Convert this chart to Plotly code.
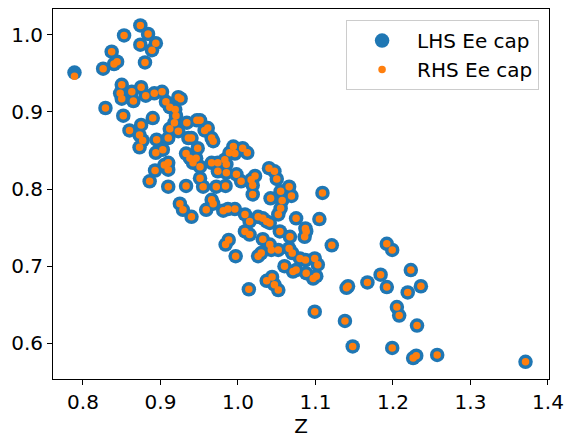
import plotly.graph_objects as go

z = [0.789, 0.874, 0.884, 0.853, 0.874, 0.894, 0.889, 0.837, 0.840, 0.844,
     0.826, 0.880, 0.850, 0.848, 0.850, 0.863, 0.865, 0.875, 0.881, 0.892,
     0.902, 0.829, 0.852, 0.890, 0.907, 0.912, 0.919, 0.923, 0.926, 0.920,
     0.875, 0.860, 0.873, 0.877, 0.873, 0.895, 0.910, 0.894, 0.903, 0.912,
     0.923, 0.918, 0.934, 0.947, 0.951, 0.957, 0.961, 0.966, 0.968, 0.936,
     0.940, 0.948, 0.933, 0.938, 0.946, 0.942, 0.951, 0.910, 0.905, 0.910,
     0.893, 0.886, 0.910, 0.933, 0.955, 0.972, 0.984, 0.966, 0.974, 0.974,
     0.985, 0.998, 0.983, 0.989, 0.996, 0.951, 0.985, 1.006, 1.012, 0.994,
     1.040, 1.047, 1.050, 1.004, 1.022, 1.017, 1.019, 1.019, 1.066, 1.055,
     1.069, 1.057, 1.055, 1.052, 1.042, 1.109, 0.996, 1.009, 1.026, 1.032,
     1.037, 1.041, 1.075, 1.105, 0.925, 0.929, 0.940, 0.959, 0.968, 0.966,
     0.981, 0.987, 1.015, 1.087, 1.086, 1.088, 1.009, 1.015, 0.988, 0.984,
     0.997, 1.032, 1.041, 1.043, 1.052, 1.030, 1.026, 1.054, 1.067, 1.066,
     1.070, 1.060, 1.071, 1.075, 1.080, 1.087, 1.099, 1.088, 1.097, 1.101,
     1.037, 1.044, 1.047, 1.052, 1.014, 1.103, 1.121, 1.099, 1.138, 1.142,
     1.140, 1.167, 1.184, 1.192, 1.199, 1.223, 1.192, 1.219, 1.236, 1.205,
     1.208, 1.231, 1.148, 1.199, 1.226, 1.230, 1.257, 1.371]

lhs_ee_cap = [0.951, 1.012, 1.001, 0.999, 0.987, 0.989, 0.980, 0.978, 0.962, 0.965,
              0.956, 0.964, 0.935, 0.924, 0.917, 0.926, 0.914, 0.932, 0.921, 0.924,
              0.926, 0.905, 0.895, 0.892, 0.913, 0.906, 0.903, 0.919, 0.917, 0.895,
              0.883, 0.876, 0.870, 0.863, 0.854, 0.864, 0.866, 0.847, 0.851, 0.878,
              0.875, 0.886, 0.886, 0.889, 0.889, 0.876, 0.879, 0.866, 0.862, 0.866,
              0.866, 0.853, 0.846, 0.840, 0.840, 0.834, 0.829, 0.834, 0.831, 0.825,
              0.824, 0.810, 0.803, 0.804, 0.803, 0.803, 0.804, 0.834, 0.834, 0.823,
              0.821, 0.819, 0.838, 0.847, 0.846, 0.814, 0.832, 0.853, 0.847, 0.855,
              0.827, 0.823, 0.813, 0.810, 0.817, 0.812, 0.805, 0.793, 0.803, 0.797,
              0.791, 0.785, 0.775, 0.767, 0.788, 0.795, 0.774, 0.767, 0.764, 0.762,
              0.758, 0.756, 0.762, 0.761, 0.781, 0.773, 0.764, 0.773, 0.781, 0.786,
              0.772, 0.774, 0.758, 0.749, 0.738, 0.745, 0.745, 0.741, 0.734, 0.728,
              0.713, 0.735, 0.728, 0.721, 0.721, 0.717, 0.713, 0.745, 0.738, 0.723,
              0.717, 0.700, 0.693, 0.695, 0.710, 0.708, 0.710, 0.691, 0.684, 0.687,
              0.681, 0.686, 0.676, 0.669, 0.670, 0.702, 0.727, 0.641, 0.629, 0.674,
              0.672, 0.679, 0.689, 0.729, 0.721, 0.695, 0.673, 0.666, 0.674, 0.647,
              0.636, 0.623, 0.596, 0.594, 0.581, 0.584, 0.585, 0.576]

rhs_ee_cap = [0.946, 1.012, 1.001, 0.999, 0.987, 0.989, 0.980, 0.978, 0.962, 0.965,
              0.956, 0.964, 0.935, 0.924, 0.917, 0.926, 0.914, 0.932, 0.921, 0.924,
              0.926, 0.905, 0.895, 0.892, 0.913, 0.906, 0.903, 0.919, 0.917, 0.895,
              0.883, 0.876, 0.870, 0.863, 0.854, 0.864, 0.866, 0.847, 0.851, 0.878,
              0.875, 0.886, 0.886, 0.889, 0.889, 0.876, 0.879, 0.866, 0.862, 0.866,
              0.866, 0.853, 0.846, 0.840, 0.840, 0.834, 0.829, 0.834, 0.831, 0.825,
              0.824, 0.810, 0.803, 0.804, 0.803, 0.803, 0.804, 0.834, 0.834, 0.823,
              0.821, 0.819, 0.838, 0.847, 0.846, 0.814, 0.832, 0.853, 0.847, 0.855,
              0.827, 0.823, 0.813, 0.810, 0.817, 0.812, 0.805, 0.793, 0.803, 0.797,
              0.791, 0.785, 0.775, 0.767, 0.788, 0.795, 0.774, 0.767, 0.764, 0.762,
              0.758, 0.756, 0.762, 0.761, 0.781, 0.773, 0.764, 0.773, 0.781, 0.786,
              0.772, 0.774, 0.758, 0.749, 0.738, 0.745, 0.745, 0.741, 0.734, 0.728,
              0.713, 0.735, 0.728, 0.721, 0.721, 0.717, 0.713, 0.745, 0.738, 0.723,
              0.717, 0.700, 0.693, 0.695, 0.710, 0.708, 0.710, 0.691, 0.684, 0.687,
              0.681, 0.686, 0.676, 0.669, 0.670, 0.702, 0.727, 0.641, 0.629, 0.674,
              0.672, 0.679, 0.689, 0.729, 0.721, 0.695, 0.673, 0.666, 0.674, 0.647,
              0.636, 0.623, 0.596, 0.594, 0.581, 0.584, 0.585, 0.576]

x_ticks = [0.8, 0.9, 1.0, 1.1, 1.2, 1.3, 1.4]
y_ticks = [0.6, 0.7, 0.8, 0.9, 1.0]

FONT = "DejaVu Sans"
FS = 20

fig = go.Figure()
fig.add_trace(go.Scatter(
    x=z, y=lhs_ee_cap, mode="markers", name="LHS Ee cap",
    marker=dict(color="#1f77b4", size=14.5, line=dict(width=0)),
))
fig.add_trace(go.Scatter(
    x=z, y=rhs_ee_cap, mode="markers", name="RHS Ee cap",
    marker=dict(color="#ff7f0e", size=7.5, line=dict(width=0)),
))

axis_common = dict(
    showgrid=False, zeroline=False, showline=True, linecolor="black",
    linewidth=1, mirror=True, ticks="outside", ticklen=5, tickwidth=1,
    tickcolor="black", tickfont=dict(family=FONT, size=FS, color="black"),
    automargin=False,
)

# the page body adds an 8 px offset, so the figure is 8 px smaller in each direction
fig.update_layout(
    width=566, height=436,
    margin=dict(l=45, r=25, t=1, b=65),
    paper_bgcolor="white", plot_bgcolor="white",
    font=dict(family=FONT, size=FS, color="black"),
    xaxis=dict(range=[0.7613, 1.4013], tickvals=x_ticks, tickformat=".1f",
               title=dict(text="Z", font=dict(family=FONT, size=FS, color="black"), standoff=1),
               **axis_common),
    yaxis=dict(range=[0.5538, 1.0333], tickvals=y_ticks, tickformat=".1f",
               **axis_common),
    legend=dict(x=0.98, y=0.97, xanchor="right", yanchor="top",
                bgcolor="rgba(255,255,255,0.8)", bordercolor="#cccccc", borderwidth=1,
                font=dict(family=FONT, size=FS, color="black"),
                itemsizing="trace", itemwidth=60, tracegroupgap=4),
    showlegend=True,
)

fig.write_html("out.html")
